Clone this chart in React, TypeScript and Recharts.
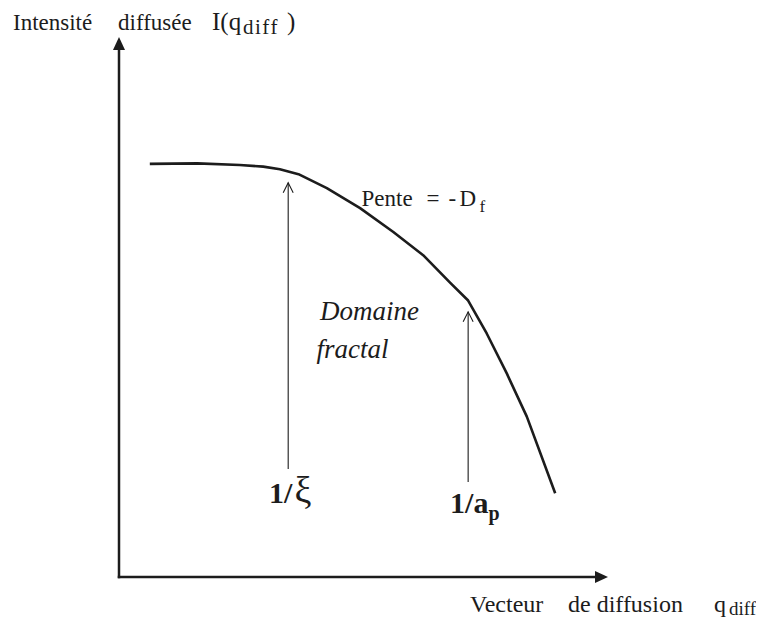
import React from "react";
import {
  ComposedChart,
  Line,
  XAxis,
  YAxis,
  ReferenceLine,
  ReferenceDot,
} from "recharts";

// schematic log-log scattering curve, arbitrary units
const qValues = [0.63, 1.6, 2.47, 2.95, 3.29, 3.67, 4.25, 4.93, 5.61, 6.22, 6.77, 7.14, 7.52, 7.93, 8.34, 8.92];
const intensityValues = [7.65, 7.66, 7.63, 7.6, 7.55, 7.46, 7.2, 6.83, 6.39, 5.96, 5.45, 5.12, 4.51, 3.77, 2.97, 1.55];

// crossover arrows: 1/xi and 1/a_p
const crossoverQ = [3.46, 7.14];
const arrowFrom = [2.0, 1.76];
const arrowTo = [7.3, 4.91];

const INK = "#1c1c1c";
const SERIF = "Liberation Serif";

const curveData = qValues.map((q, i) => ({ q, I: intensityValues[i] }));

function ThinArrow(props: any) {
  const { x1, y1, x2, y2 } = props;
  const len = Math.hypot(x2 - x1, y2 - y1) || 1;
  const ux = (x2 - x1) / len;
  const uy = (y2 - y1) / len;
  const bx = x2 - ux * 10;
  const by = y2 - uy * 10;
  const pts = `${bx - uy * 5},${by + ux * 5} ${x2},${y2} ${bx + uy * 5},${by - ux * 5}`;
  return (
    <g>
      <line x1={x1} y1={y1} x2={x2} y2={y2} stroke={INK} strokeWidth={1.1} />
      <polyline points={pts} fill="none" stroke={INK} strokeWidth={1.1} />
    </g>
  );
}

function AxisArrow(props: any) {
  const { x1, y1, x2, y2 } = props;
  const len = Math.hypot(x2 - x1, y2 - y1) || 1;
  const ux = (x2 - x1) / len;
  const uy = (y2 - y1) / len;
  const bx = x2 - ux * 13;
  const by = y2 - uy * 13;
  const pts = `${bx - uy * 6},${by + ux * 6} ${x2},${y2} ${bx + uy * 6},${by - ux * 6}`;
  return (
    <g>
      <line x1={x1} y1={y1} x2={bx} y2={by} stroke={INK} strokeWidth={2.5} strokeLinecap="square" />
      <polygon points={pts} fill={INK} />
    </g>
  );
}

const yTitle = ({ viewBox }: any) => {
  const left = viewBox.x + viewBox.width;
  const base = viewBox.y - 7;
  return (
    <text y={base} fontFamily={SERIF} fontSize={23} fill={INK}>
      <tspan x={left - 106}>Intensité</tspan>
      <tspan x={left - 1}>diffusée</tspan>
      <tspan x={left + 93} fontSize={25}>I(q</tspan>
      <tspan x={left + 124} y={base + 4} fontSize={21} letterSpacing={1.5}>diff</tspan>
      <tspan x={left + 168} y={base} fontSize={25}>)</tspan>
    </text>
  );
};

const xTitle = ({ viewBox }: any) => {
  const right = viewBox.x + viewBox.width;
  const base = viewBox.y + 35;
  return (
    <text y={base} fontFamily={SERIF} fontSize={24} fill={INK}>
      <tspan x={right - 138}>Vecteur</tspan>
      <tspan x={right - 40}>de diffusion</tspan>
      <tspan x={right + 106}>q</tspan>
      <tspan x={right + 121} y={base + 3} fontSize={19}>diff</tspan>
    </text>
  );
};

const slopeLabel = ({ viewBox }: any) => (
  <text y={viewBox.y} fontFamily={SERIF} fontSize={23} fill={INK}>
    <tspan x={viewBox.x}>Pente</tspan>
    <tspan x={viewBox.x + 65}>=</tspan>
    <tspan x={viewBox.x + 87}>-</tspan>
    <tspan x={viewBox.x + 98}>D</tspan>
    <tspan x={viewBox.x + 118} y={viewBox.y + 6} fontSize={17}>f</tspan>
  </text>
);

const italicLabel = (word: string) => ({ viewBox }: any) => (
  <text x={viewBox.x} y={viewBox.y} fontFamily={SERIF} fontSize={27} fill={INK}>
    <tspan fontStyle="italic">{word}</tspan>
  </text>
);

const xiLabel = ({ viewBox }: any) => (
  <text x={viewBox.x} y={viewBox.y} fontFamily={SERIF} fontSize={30} fill={INK}>
    <tspan fontWeight="bold">1/</tspan>
    <tspan fontSize={38} dx={2}>ξ</tspan>
  </text>
);

const apLabel = ({ viewBox }: any) => (
  <text x={viewBox.x} y={viewBox.y} fontFamily={SERIF} fontSize={30} fontWeight="bold" fill={INK}>
    <tspan>1/a</tspan>
    <tspan fontSize={20} dy={7}>p</tspan>
  </text>
);

const hidden = { fill: "none", stroke: "none" };

export default function App() {
  return (
    <div style={{ width: 756, height: 610 }}>
      <ComposedChart
        width={756}
        height={610}
        data={curveData}
        margin={{ top: 29, right: 156, bottom: 5, left: 71 }}
      >
        <XAxis
          type="number"
          dataKey="q"
          domain={[0, 10]}
          height={36}
          tick={false}
          tickLine={false}
          axisLine={false}
          label={xTitle}
        />
        <YAxis
          type="number"
          domain={[0, 10]}
          width={40}
          tick={false}
          tickLine={false}
          axisLine={false}
          label={yTitle}
        />
        <ReferenceLine segment={[{ x: 0, y: 0 }, { x: 10, y: 0 }]} ifOverflow="visible" shape={AxisArrow} />
        <ReferenceLine segment={[{ x: 0, y: 0 }, { x: 0, y: 10 }]} ifOverflow="visible" shape={AxisArrow} />
        <Line
          dataKey="I"
          type="linear"
          stroke={INK}
          strokeWidth={2.6}
          strokeLinejoin="round"
          dot={false}
          activeDot={false}
          isAnimationActive={false}
        />
        {crossoverQ.map((q, i) => (
          <ReferenceLine
            key={i}
            segment={[
              { x: q, y: arrowFrom[i] },
              { x: q, y: arrowTo[i] },
            ]}
            ifOverflow="visible"
            shape={ThinArrow}
          />
        ))}
        <ReferenceDot x={4.96} y={6.87} r={0} {...hidden} ifOverflow="visible" label={slopeLabel} />
        <ReferenceDot x={4.11} y={4.76} r={0} {...hidden} ifOverflow="visible" label={italicLabel("Domaine")} />
        <ReferenceDot x={4.04} y={4.06} r={0} {...hidden} ifOverflow="visible" label={italicLabel("fractal")} />
        <ReferenceDot x={3.07} y={1.37} r={0} {...hidden} ifOverflow="visible" label={xiLabel} />
        <ReferenceDot x={6.77} y={1.19} r={0} {...hidden} ifOverflow="visible" label={apLabel} />
      </ComposedChart>
    </div>
  );
}
